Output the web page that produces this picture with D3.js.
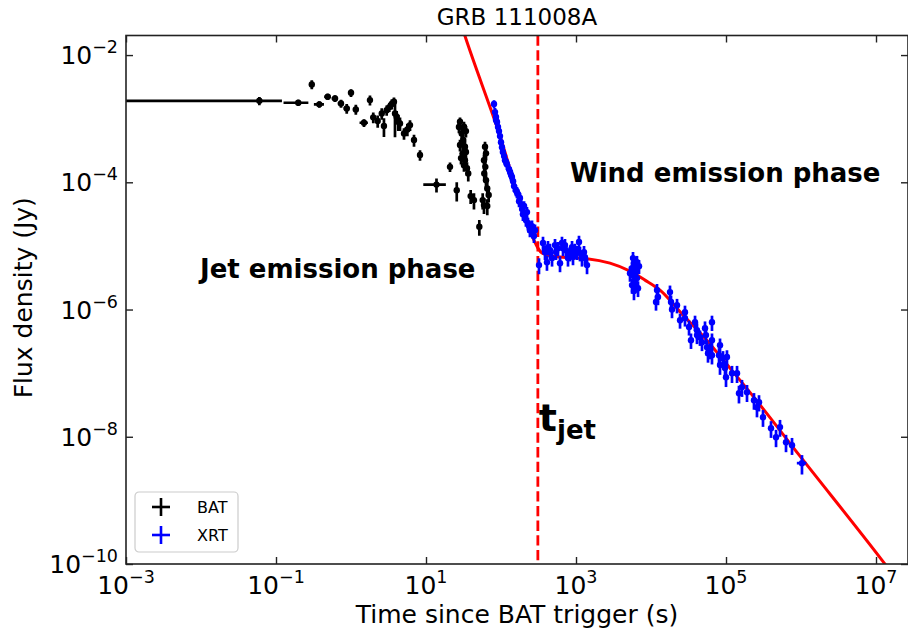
<!DOCTYPE html>
<html lang="en">
<head>
<meta charset="UTF-8">
<title>GRB 111008A</title>
<script src="https://cdnjs.cloudflare.com/ajax/libs/d3/7.8.5/d3.min.js"></script>
<style>
    body { margin: 0; background: #fff; }
    svg { display: block; font-family: "DejaVu Sans", sans-serif; }
    .tick-label { font-size: 25px; fill: #000; }
    .axis-label { font-size: 25px; fill: #000; }
    .phase { font-size: 26px; font-weight: bold; fill: #000; }
    .axis path { display: none; }
    .axis line { stroke: #222; stroke-width: 1.4; }
    .legend-text { font-size: 16px; fill: #000; }
</style>
</head>
<body>
<div id="chart"></div>
<script>
// axis ticks and ranges
const xTicks = [1e-3, 1e-1, 1e1, 1e3, 1e5, 1e7];
const xTickExp = ["-3", "-1", "1", "3", "5", "7"];
const yTicks = [1e-2, 1e-4, 1e-6, 1e-8, 1e-10];
const yTickExp = ["-2", "-4", "-6", "-8", "-10"];
const xDomain = [1e-3, 2.67e7];
const yDomain = [1e-10, 2.03e-2];
const tJet = 310;

// BAT points: [time, time err, flux, flux err]
const batData = [
    [0.06, 0.06, 1.91e-3, 2.8e-4],
    [0.198, 0.072, 1.78e-3, 2.0e-4],
    [0.30, 0.015, 3.46e-3, 5.5e-4],
    [0.378, 0.058, 1.68e-3, 2.0e-4],
    [0.489, 0.05, 2.21e-3, 2.5e-4],
    [0.612, 0.06, 2.08e-3, 2.5e-4],
    [0.736, 0.07, 1.74e-3, 2.5e-4],
    [0.877, 0.08, 1.45e-3, 2.5e-4],
    [1.0, 0.06, 2.55e-3, 3.5e-4],
    [1.16, 0.1, 1.40e-3, 2.5e-4],
    [1.49, 0.19, 8.63e-4, 1.2e-4],
    [1.79, 0.1, 1.96e-3, 3.5e-4],
    [1.98, 0.15, 1.05e-3, 2.0e-4],
    [2.27, 0.15, 9.2e-4, 2.0e-4],
    [2.57, 0.15, 1.21e-3, 2.5e-4],
    [2.75, 0.12, 7.66e-4, 2.5e-4],
    [2.99, 0.15, 1.36e-3, 2.5e-4],
    [3.24, 0.15, 1.52e-3, 2.5e-4],
    [3.49, 0.15, 1.70e-3, 3.0e-4],
    [3.74, 0.15, 1.85e-3, 3.0e-4],
    [3.86, 0.15, 1.21e-3, 7.0e-4],
    [4.06, 0.2, 1.07e-3, 2.5e-4],
    [4.27, 0.2, 8.93e-4, 2.5e-4],
    [4.50, 0.2, 8.43e-4, 2.0e-4],
    [5.09, 0.25, 5.87e-4, 1.2e-4],
    [5.64, 0.25, 6.79e-4, 1.5e-4],
    [6.12, 0.3, 7.93e-4, 1.5e-4],
    [6.92, 0.3, 4.61e-4, 1.0e-4],
    [8.32, 0.4, 2.68e-4, 5.0e-5],
    [13.8, 4.6, 9.2e-5, 2.3e-5],
    [20.9, 1.5, 1.75e-4, 3.0e-5],
    [25.7, 0.8, 7.5e-5, 2.5e-5],
    [39.4, 1.2, 6.07e-5, 1.5e-5],
    [43.6, 1.2, 5.25e-5, 1.5e-5],
    [51.4, 1.5, 2.0e-5, 5.5e-6],
    [28.4, 1.0, 8.93e-4, 1.5e-4],
    [32.1, 1.0, 7.46e-4, 1.5e-4],
    [29.9, 1.0, 5.87e-4, 1.2e-4],
    [31.4, 1.0, 4.61e-4, 1.0e-4],
    [33.1, 1.0, 3.62e-4, 8.0e-5],
    [30.8, 1.0, 2.85e-4, 6.0e-5],
    [33.1, 1.0, 2.23e-4, 5.0e-5],
    [32.1, 1.0, 1.86e-4, 4.0e-5],
    [36.6, 1.0, 1.38e-4, 3.5e-5],
    [27.5, 1.0, 7.38e-4, 1.5e-4],
    [34.1, 1.0, 6.38e-4, 1.3e-4],
    [28.4, 1.0, 3.85e-4, 8.0e-5],
    [34.1, 1.0, 2.99e-4, 6.0e-5],
    [29.3, 1.0, 2.40e-4, 5.0e-5],
    [35.2, 1.0, 1.67e-4, 4.0e-5],
    [61.2, 1.5, 3.62e-4, 7.0e-5],
    [63.1, 1.5, 2.85e-4, 6.0e-5],
    [59.3, 1.5, 2.23e-4, 5.0e-5],
    [61.8, 1.5, 1.75e-4, 4.0e-5],
    [59.8, 1.5, 1.38e-4, 3.0e-5],
    [63.1, 1.5, 1.08e-4, 2.5e-5],
    [65.6, 1.5, 8.0e-5, 2.0e-5],
    [68.5, 1.5, 6.3e-5, 1.5e-5],
    [57.0, 1.5, 5.25e-5, 1.5e-5],
    [59.3, 1.5, 4.38e-5, 1.2e-5],
    [65.6, 1.5, 4.23e-5, 1.2e-5]
];

// XRT points: [time, time err, flux, flux err]
const xrtData = [
    [80.7, 4, 1.70e-3, 2.5e-4],
    [83.2, 4, 1.27e-3, 2.0e-4],
    [85.8, 4, 1.06e-3, 1.6e-4],
    [88.5, 4, 8.85e-4, 1.4e-4],
    [91.2, 4, 7.38e-4, 1.2e-4],
    [85.8, 4, 9.5e-4, 1.5e-4],
    [94.0, 4, 6.38e-4, 1.0e-4],
    [97.0, 5, 5.32e-4, 9.0e-5],
    [100, 5, 4.28e-4, 7.0e-5],
    [103, 5, 3.57e-4, 6.0e-5],
    [106, 5, 2.99e-4, 5.0e-5],
    [110, 5, 2.58e-4, 4.5e-5],
    [113, 5, 2.23e-4, 4.0e-5],
    [117, 5, 2.08e-4, 3.5e-5],
    [120, 6, 1.93e-4, 3.5e-5],
    [128, 6, 1.61e-4, 3.0e-5],
    [132, 6, 1.45e-4, 2.5e-5],
    [136, 6, 1.30e-4, 2.5e-5],
    [140, 7, 1.21e-4, 2.2e-5],
    [145, 7, 1.04e-4, 2.0e-5],
    [149, 7, 8.71e-5, 1.7e-5],
    [158, 8, 7.53e-5, 1.5e-5],
    [163, 8, 7.0e-5, 1.4e-5],
    [169, 8, 6.52e-5, 1.3e-5],
    [174, 8, 5.05e-5, 1.0e-5],
    [179, 9, 5.65e-5, 1.1e-5],
    [185, 9, 4.54e-5, 9.0e-6],
    [191, 9, 3.79e-5, 8.0e-6],
    [196, 10, 3.16e-5, 7.0e-6],
    [203, 10, 4.23e-5, 8.0e-6],
    [209, 10, 2.94e-5, 6.0e-6],
    [215, 10, 2.55e-5, 5.5e-6],
    [222, 11, 3.40e-5, 7.0e-6],
    [229, 11, 2.28e-5, 5.0e-6],
    [236, 12, 2.05e-5, 4.5e-6],
    [243, 12, 1.77e-5, 4.0e-6],
    [251, 12, 1.84e-5, 4.0e-6],
    [259, 13, 2.05e-5, 4.5e-6],
    [267, 13, 1.65e-5, 3.5e-6],
    [275, 14, 1.43e-5, 3.2e-6],
    [284, 14, 1.77e-5, 4.0e-6],
    [321, 16, 4.99e-6, 1.4e-6],
    [363, 18, 1.11e-5, 2.8e-6],
    [386, 19, 8.0e-6, 2.0e-6],
    [410, 20, 5.56e-6, 1.5e-6],
    [423, 21, 9.58e-6, 2.4e-6],
    [450, 22, 8.59e-6, 2.2e-6],
    [479, 24, 6.43e-6, 1.7e-6],
    [525, 26, 1.03e-5, 2.6e-6],
    [541, 27, 8.0e-6, 2.0e-6],
    [575, 29, 9.23e-6, 2.3e-6],
    [612, 30, 5.36e-6, 1.5e-6],
    [650, 32, 1.11e-5, 2.8e-6],
    [671, 33, 9.23e-6, 2.3e-6],
    [713, 35, 1.03e-5, 2.6e-6],
    [736, 36, 8.59e-6, 2.2e-6],
    [782, 39, 6.43e-6, 1.7e-6],
    [832, 41, 7.71e-6, 2.0e-6],
    [885, 44, 9.58e-6, 2.4e-6],
    [912, 45, 6.67e-6, 1.7e-6],
    [970, 48, 8.59e-6, 2.2e-6],
    [1030, 51, 8.0e-6, 2.0e-6],
    [1096, 54, 1.15e-5, 2.9e-6],
    [1130, 56, 7.71e-6, 2.0e-6],
    [1202, 60, 6.43e-6, 1.7e-6],
    [1279, 64, 8.0e-6, 2.0e-6],
    [1318, 65, 6.67e-6, 1.7e-6],
    [1403, 70, 4.99e-6, 1.4e-6],
    [5754, 290, 6.43e-6, 1.6e-6],
    [5929, 300, 5.36e-6, 1.4e-6],
    [5585, 280, 4.48e-6, 1.2e-6],
    [6310, 310, 4.02e-6, 1.0e-6],
    [5754, 290, 3.47e-6, 9.0e-7],
    [6501, 320, 3.12e-6, 8.0e-7],
    [6118, 300, 2.70e-6, 7.0e-7],
    [5585, 280, 2.42e-6, 6.5e-7],
    [6714, 330, 2.17e-6, 6.0e-7],
    [5929, 300, 1.95e-6, 5.5e-7],
    [6918, 350, 4.81e-6, 1.2e-6],
    [5248, 260, 3.73e-6, 1.0e-6],
    [6501, 320, 5.56e-6, 1.4e-6],
    [11660, 600, 1.31e-6, 3.5e-7],
    [12020, 600, 2.02e-6, 5.0e-7],
    [12390, 600, 1.57e-6, 4.0e-7],
    [17910, 900, 1.88e-6, 5.0e-7],
    [18490, 900, 1.31e-6, 3.5e-7],
    [19050, 950, 1.0e-6, 2.7e-7],
    [22230, 1100, 1.17e-6, 3.0e-7],
    [24380, 1200, 6.8e-7, 1.8e-7],
    [28380, 1400, 9.1e-7, 2.4e-7],
    [28380, 1400, 7.3e-7, 1.9e-7],
    [32140, 1600, 5.3e-7, 1.4e-7],
    [34120, 1700, 3.30e-7, 9.0e-8],
    [38640, 1900, 6.3e-7, 1.7e-7],
    [41020, 2000, 4.74e-7, 1.3e-7],
    [41020, 2000, 3.96e-7, 1.1e-7],
    [44980, 2200, 3.68e-7, 1.0e-7],
    [47860, 2400, 3.07e-7, 8.5e-8],
    [52480, 2600, 5.1e-7, 1.4e-7],
    [54080, 2700, 3.96e-7, 1.1e-7],
    [55850, 2800, 2.56e-7, 7.0e-8],
    [57540, 2900, 2.06e-7, 6.0e-8],
    [61240, 3000, 2.30e-7, 6.5e-8],
    [65010, 3200, 6.3e-7, 1.7e-7],
    [65010, 3200, 3.30e-7, 9.0e-8],
    [65010, 3200, 1.92e-7, 5.5e-8],
    [80720, 4000, 1.92e-7, 5.5e-8],
    [83180, 4200, 2.75e-7, 7.5e-8],
    [83180, 4200, 1.34e-7, 4.0e-8],
    [91200, 4500, 1.72e-7, 5.0e-8],
    [97000, 4800, 1.20e-7, 3.5e-8],
    [100000, 5000, 8.65e-8, 2.6e-8],
    [103000, 5200, 1.79e-7, 5.0e-8],
    [120200, 6000, 1.0e-7, 3.0e-8],
    [140300, 7000, 1.0e-7, 3.0e-8],
    [148900, 7400, 4.84e-8, 1.5e-8],
    [163300, 8200, 6.03e-8, 1.8e-8],
    [190500, 9500, 5.02e-8, 1.5e-8],
    [236000, 12000, 3.76e-8, 1.1e-8],
    [258800, 13000, 2.92e-8, 9.0e-9],
    [275400, 14000, 3.50e-8, 1.0e-8],
    [311300, 16000, 2.03e-8, 6.0e-9],
    [398100, 20000, 1.36e-8, 4.0e-9],
    [464500, 23000, 9.86e-9, 3.0e-9],
    [524800, 26000, 1.42e-8, 4.2e-9],
    [631000, 32000, 8.22e-9, 2.5e-9],
    [758600, 38000, 7.38e-9, 2.2e-9],
    [1.03e6, 1.5e5, 3.85e-9, 1.3e-9]
];

// fitted model (red curve)
const modelT = [27.1, 33.1, 88.5, 275, 311, 352, 450, 612, 1403, 2838, 5248, 8318, 13180, 26730, 52480, 112900, 229100, 970000, 1.2e7, 1.79e7];
const modelF = [4.1e-2, 1.99e-2, 7.38e-4, 1.23e-5, 9.23e-6, 7.71e-6, 7.04e-6, 6.67e-6, 6.31e-6, 5.36e-6, 4.02e-6, 2.90e-6, 2.02e-6, 8.17e-7, 3.55e-7, 1.20e-7, 4.35e-8, 4.95e-9, 1.15e-10, 6.2e-11];

const W = 908, H = 631;
const margin = {top: 35.5, right: 0, bottom: 67, left: 126};
const plotL = margin.left, plotR = W - margin.right, plotT = margin.top, plotB = H - margin.bottom;

const svg = d3.select("#chart").append("svg")
    .attr("width", W)
    .attr("height", H);

const x = d3.scaleLog().domain(xDomain).range([plotL, plotR]);
const y = d3.scaleLog().domain(yDomain).range([plotB, plotT]);

svg.append("clipPath").attr("id", "clip")
    .append("rect")
    .attr("x", plotL).attr("y", plotT)
    .attr("width", plotR - plotL).attr("height", plotB - plotT);

const plot = svg.append("g").attr("clip-path", "url(#clip)");

// model curve
const model = modelT.map((t, i) => ({t: t, f: modelF[i]}));
plot.append("path")
    .datum(model)
    .attr("fill", "none")
    .attr("stroke", "#ff0000")
    .attr("stroke-width", 3)
    .attr("d", d3.line()
        .x(d => x(d.t))
        .y(d => y(d.f))
        .curve(d3.curveMonotoneX));

// jet break
plot.append("line")
    .attr("x1", x(tJet)).attr("x2", x(tJet))
    .attr("y1", plotT).attr("y2", plotB)
    .attr("stroke", "#ff0000")
    .attr("stroke-width", 2.8)
    .attr("stroke-dasharray", "10.3,4.4");

function drawErrors(data, color) {
    const g = plot.append("g");
    const lo = v => Math.max(v, 1e-12);
    g.selectAll(".ex").data(data).enter().append("line")
        .attr("x1", d => x(lo(d[0] - d[1])))
        .attr("x2", d => x(d[0] + d[1]))
        .attr("y1", d => y(d[2]))
        .attr("y2", d => y(d[2]))
        .attr("stroke", color)
        .attr("stroke-width", 2.7);
    g.selectAll(".ey").data(data).enter().append("line")
        .attr("x1", d => x(d[0]))
        .attr("x2", d => x(d[0]))
        .attr("y1", d => y(lo(d[2] - d[3])))
        .attr("y2", d => y(d[2] + d[3]))
        .attr("stroke", color)
        .attr("stroke-width", 2.7);
    g.selectAll("circle").data(data).enter().append("circle")
        .attr("cx", d => x(d[0]))
        .attr("cy", d => y(d[2]))
        .attr("r", 3.2)
        .attr("fill", color);
}
drawErrors(batData, "#000000");
drawErrors(xrtData, "#0000ff");

// axes: inward ticks on all four sides
svg.append("g").attr("class", "axis")
    .attr("transform", `translate(0,${plotB})`)
    .call(d3.axisBottom(x).tickValues(xTicks).tickSize(-7).tickFormat(""));
svg.append("g").attr("class", "axis")
    .attr("transform", `translate(0,${plotT})`)
    .call(d3.axisTop(x).tickValues(xTicks).tickSize(-7).tickFormat(""));
svg.append("g").attr("class", "axis")
    .attr("transform", `translate(${plotL},0)`)
    .call(d3.axisLeft(y).tickValues(yTicks).tickSize(-7).tickFormat(""));
svg.append("g").attr("class", "axis")
    .attr("transform", `translate(${plotR},0)`)
    .call(d3.axisRight(y).tickValues(yTicks).tickSize(-7).tickFormat(""));

svg.append("rect")
    .attr("x", plotL).attr("y", plotT)
    .attr("width", plotR - plotL).attr("height", plotB - plotT)
    .attr("fill", "none")
    .attr("stroke", "#222")
    .attr("stroke-width", 1.6);

// tick labels with superscript exponents
xTicks.forEach((v, i) => {
    const t = svg.append("text").attr("class", "tick-label")
        .attr("x", x(v)).attr("y", plotB + 30)
        .attr("text-anchor", "middle");
    t.append("tspan").text("10");
    t.append("tspan").attr("dy", -11).attr("font-size", 17.5)
        .text(xTickExp[i].replace("-", "\u2212"));
});
yTicks.forEach((v, i) => {
    const t = svg.append("text").attr("class", "tick-label")
        .attr("x", plotL - 8).attr("y", y(v) + 9)
        .attr("text-anchor", "end");
    t.append("tspan").text("10");
    t.append("tspan").attr("dy", -11).attr("font-size", 17.5)
        .text(yTickExp[i].replace("-", "\u2212"));
});

// axis labels and title
svg.append("text").attr("class", "axis-label")
    .attr("x", (plotL + plotR) / 2).attr("y", 623)
    .attr("text-anchor", "middle")
    .text("Time since BAT trigger (s)");

svg.append("text").attr("class", "axis-label")
    .attr("transform", `translate(32,${(plotT + plotB) / 2 - 2}) rotate(-90)`)
    .attr("text-anchor", "middle")
    .text("Flux density (Jy)");

svg.append("text").attr("class", "axis-label")
    .attr("x", (plotL + plotR) / 2).attr("y", 25)
    .attr("text-anchor", "middle")
    .style("font-size", "23px")
    .text("GRB 111008A");

// annotations
svg.append("text").attr("class", "phase")
    .attr("x", 570).attr("y", 182)
    .text("Wind emission phase");
svg.append("text").attr("class", "phase")
    .attr("x", 200).attr("y", 278)
    .text("Jet emission phase");

const tj = svg.append("text").attr("class", "phase")
    .attr("x", x(tJet) + 1).attr("y", 431)
    .style("font-size", "38px");
tj.append("tspan").text("t");
tj.append("tspan").attr("dy", 8).style("font-size", "26px").text("jet");

// legend
const legend = svg.append("g").attr("transform", "translate(135,492)");
legend.append("rect")
    .attr("width", 103).attr("height", 60)
    .attr("rx", 4)
    .attr("fill", "#fff").attr("fill-opacity", 0.8)
    .attr("stroke", "#ccc").attr("stroke-width", 1.2);
[["BAT", "#000000"], ["XRT", "#0000ff"]].forEach(([name, color], i) => {
    const cy = 15 + i * 28;
    legend.append("line")
        .attr("x1", 17).attr("x2", 35).attr("y1", cy).attr("y2", cy)
        .attr("stroke", color).attr("stroke-width", 2.6);
    legend.append("line")
        .attr("x1", 26).attr("x2", 26).attr("y1", cy - 9).attr("y2", cy + 9)
        .attr("stroke", color).attr("stroke-width", 2.6);
    legend.append("text").attr("class", "legend-text")
        .attr("x", 62).attr("y", cy + 6)
        .text(name);
});
</script>
</body>
</html>
